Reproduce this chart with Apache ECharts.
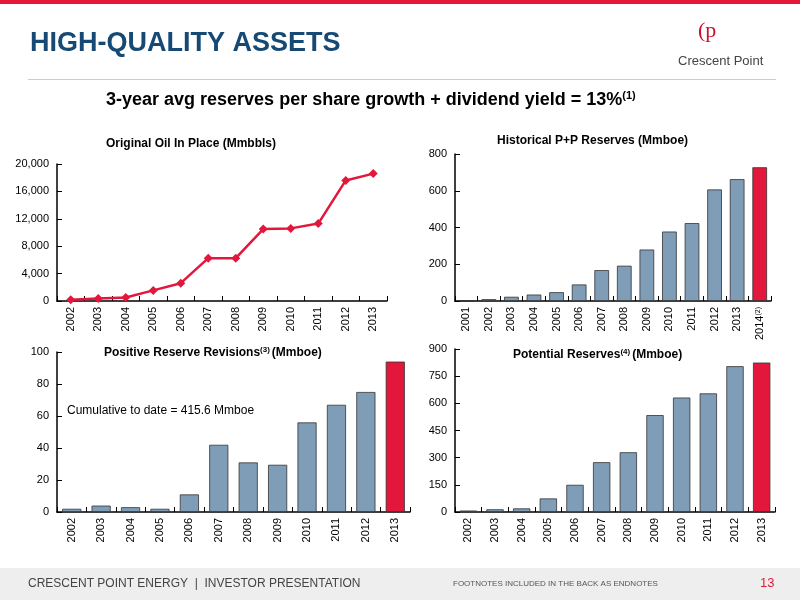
<!DOCTYPE html>
<html>
<head>
<meta charset="utf-8">
<script src="https://cdn.jsdelivr.net/npm/echarts@6/dist/echarts.min.js"></script>
<style>
body{margin:0;}
#main{width:800px;height:600px;}
</style>
</head>
<body>
<div id="main"></div>
<script>
//数据
var oil_years = ['2002','2003','2004','2005','2006','2007','2008','2009','2010','2011','2012','2013'];
var oil_values = [200, 350, 500, 1550, 2600, 6250, 6250, 10500, 10600, 11300, 17600, 18600];
var pp_years = ['2001','2002','2003','2004','2005','2006','2007','2008','2009','2010','2011','2012','2013','2014'];
var pp_values = [2, 10, 23, 35, 48, 90, 168, 192, 280, 378, 424, 607, 663, 728];
var rev_years = ['2002','2003','2004','2005','2006','2007','2008','2009','2010','2011','2012','2013'];
var rev_values = [2, 4, 3, 2, 11, 42, 31, 29.5, 56, 67, 75, 94];
var pot_years = ['2002','2003','2004','2005','2006','2007','2008','2009','2010','2011','2012','2013'];
var pot_values = [8, 15, 20, 75, 150, 275, 330, 535, 632, 655, 805, 825];

var BLUE = '#7f9db6', RED = '#e3173b', AX = '#000';

function barData(arr){
	return arr.map(function(v, i){
		return {value: v, itemStyle: {color: i == arr.length - 1 ? RED : BLUE}};
	});
}
function cat(idx, data){
	return {type:'category', gridIndex:idx, data:data,
		axisLine:{lineStyle:{color:AX, width:1.5}},
		axisTick:{show:true, inside:true, lineStyle:{color:AX}},
		axisLabel:{rotate:90, color:'#000', fontSize:11, fontFamily:'Liberation Sans', margin:6,
			formatter:function(v){return v == '2014' ? '2014{s|(2)}' : v;},
			rich:{s:{fontSize:7, verticalAlign:'top', color:'#000'}}}};
}
function val(idx, max, interval, fmt){
	return {type:'value', gridIndex:idx, min:0, max:max, interval:interval,
		axisLine:{show:true, lineStyle:{color:AX, width:1.5}},
		axisTick:{show:true, inside:true, lineStyle:{color:AX}},
		splitLine:{show:false},
		axisLabel:{color:'#000', fontSize:11, fontFamily:'Liberation Sans', formatter:fmt}};
}
var RICH = {
	b:{font:'bold 12px Liberation Sans', fill:'#000', color:'#000'},
	s:{font:'bold 8px Liberation Sans', color:'#000', verticalAlign:'top', padding:[0,2,6,0]},
	h:{font:'bold 18px Liberation Sans', color:'#000'},
	hs:{font:'bold 11px Liberation Sans', color:'#000', padding:[0,0,10,0]}
};
function ttl(text, x, y){
	return {type:'text', left:x, top:y, style:{text:text, rich:RICH}};
}

var chart = echarts.init(document.getElementById('main'));
chart.setOption({
	animation:false,
	backgroundColor:'#fff',
	textStyle:{fontFamily:'Liberation Sans'},
	grid:[
		{left:57, top:164, width:330, height:137},
		{left:455, top:154, width:316, height:147},
		{left:57, top:352, width:353, height:160},
		{left:455, top:349, width:320, height:163}
	],
	xAxis:[cat(0, oil_years), cat(1, pp_years), cat(2, rev_years), cat(3, pot_years)],
	yAxis:[
		val(0, 20000, 4000, function(v){return v.toLocaleString('en-US');}),
		val(1, 800, 200),
		val(2, 100, 20),
		val(3, 900, 150)
	],
	series:[
		{type:'line', xAxisIndex:0, yAxisIndex:0, data:oil_values, symbol:'diamond', symbolSize:9,
			lineStyle:{color:RED, width:2.5}, itemStyle:{color:RED}},
		{type:'bar', xAxisIndex:1, yAxisIndex:1, data:barData(pp_values), barCategoryGap:'35%',
			itemStyle:{borderColor:'#333', borderWidth:0.8}},
		{type:'bar', xAxisIndex:2, yAxisIndex:2, data:barData(rev_values), barCategoryGap:'35%',
			itemStyle:{borderColor:'#333', borderWidth:0.8}},
		{type:'bar', xAxisIndex:3, yAxisIndex:3, data:barData(pot_values), barCategoryGap:'35%',
			itemStyle:{borderColor:'#333', borderWidth:0.8}}
	],
	graphic:[
		{type:'rect', shape:{x:0, y:0, width:800, height:4}, style:{fill:'#e31937'}},
		{type:'text', left:30, top:30, style:{text:'HIGH-QUALITY ASSETS', fill:'#164a74', font:'bold 27px Liberation Sans'}},
		{type:'text', left:698, top:20, style:{text:'(p', fill:'#c8102e', font:'22px Liberation Serif'}},
		{type:'text', left:678, top:55, style:{text:'Crescent Point', fill:'#444', font:'13px Liberation Sans'}},
		{type:'rect', shape:{x:28, y:79, width:748, height:1}, style:{fill:'#ccc'}},
		ttl('{h|3-year avg reserves per share growth + dividend yield = 13%}{hs|(1)}', 106, 90),
		ttl('{b|Original Oil In Place (Mmbbls)}', 106, 138),
		ttl('{b|Historical P+P Reserves (Mmboe)}', 497, 135),
		ttl('{b|Positive Reserve Revisions}{s|(3)}{b|(Mmboe)}', 104, 346),
		ttl('{b|Potential Reserves}{s|(4)}{b|(Mmboe)}', 513, 348),
		{type:'text', left:67, top:405, style:{text:'Cumulative to date = 415.6 Mmboe', fill:'#000', font:'12px Liberation Sans'}},
		{type:'rect', shape:{x:0, y:568, width:800, height:32}, style:{fill:'#eeeeee'}},
		{type:'text', left:28, top:578, style:{text:'CRESCENT POINT ENERGY  |  INVESTOR PRESENTATION', fill:'#444', font:'12px Liberation Sans'}},
		{type:'text', left:453, top:580, style:{text:'FOOTNOTES INCLUDED IN THE BACK AS ENDNOTES', fill:'#555', font:'8px Liberation Sans'}},
		{type:'text', left:760, top:577, style:{text:'13', fill:'#e31937', font:'13px Liberation Sans'}}
	]
});
</script>
</body>
</html>
